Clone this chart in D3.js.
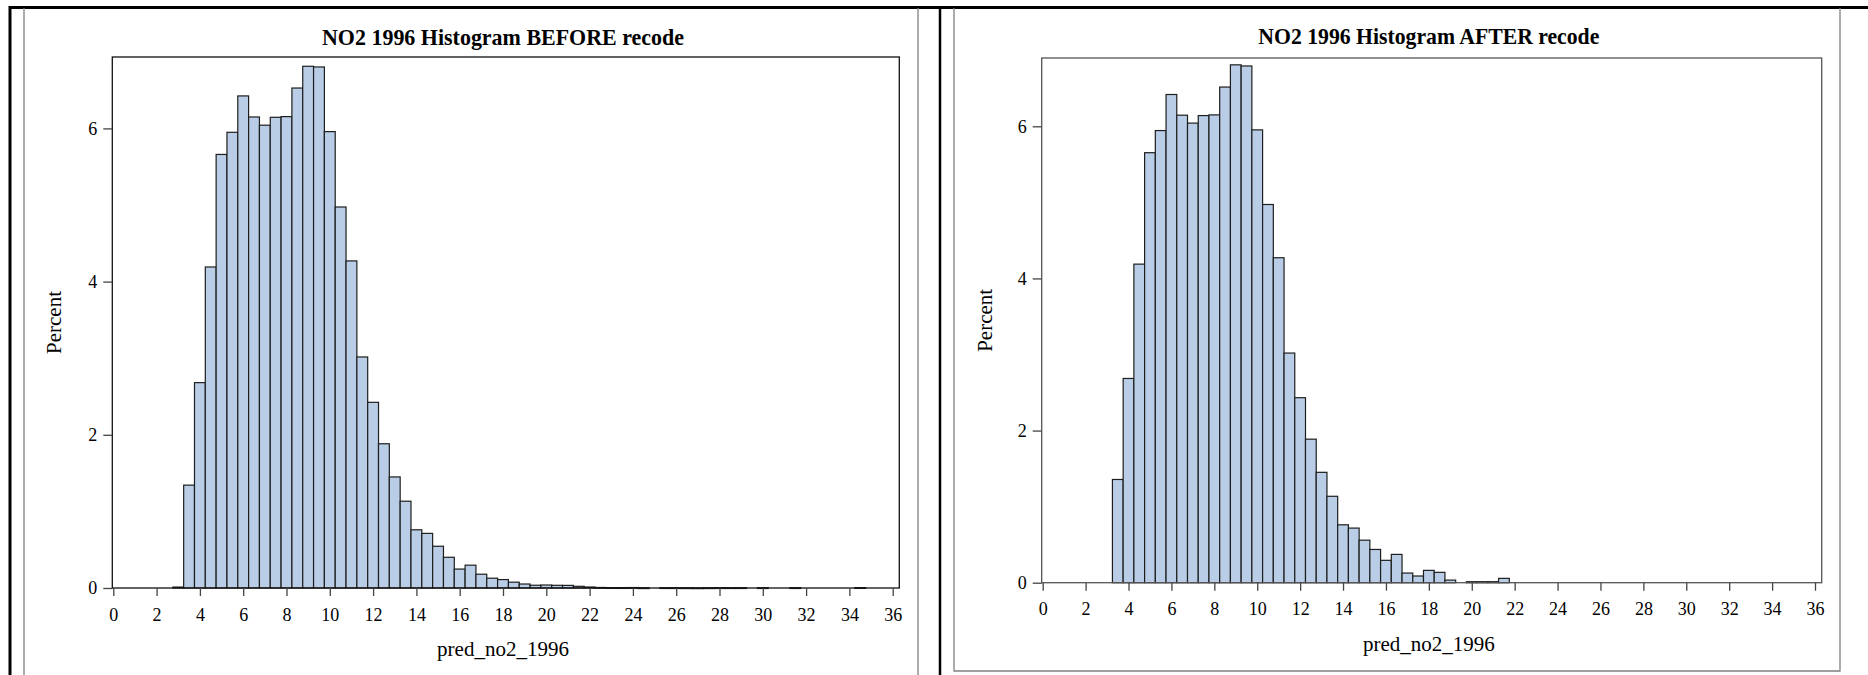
<!DOCTYPE html>
<html>
<head>
  <title>NO2 1996 Histograms</title>
  <script src="https://d3js.org/d3.v7.min.js"></script>
  <style>
    body { margin: 0; background: #fff; }
    svg text { font-family: "Liberation Serif", "Times New Roman", serif; fill: #000; }
  </style>
</head>
<body>
  <svg id="chart" width="1868" height="675"></svg>

  <script>
    // bin midpoints (bin width 0.5) and percent per bin
    const beforeBins = [3.0, 3.5, 4.0, 4.5, 5.0, 5.5, 6.0, 6.5, 7.0, 7.5, 8.0, 8.5, 9.0, 9.5,
      10.0, 10.5, 11.0, 11.5, 12.0, 12.5, 13.0, 13.5, 14.0, 14.5, 15.0, 15.5, 16.0, 16.5,
      17.0, 17.5, 18.0, 18.5, 19.0, 19.5, 20.0, 20.5, 21.0, 21.5, 22.0, 22.5, 23.0, 23.5,
      24.0, 24.5, 25.5, 26.0, 26.5, 27.0, 27.5, 28.0, 28.5, 29.0, 30.0, 31.5, 34.5];
    const beforePct = [0.012, 1.343, 2.681, 4.191, 5.660, 5.949, 6.424, 6.149, 6.042, 6.145, 6.154, 6.527, 6.811, 6.802,
      5.958, 4.974, 4.270, 3.016, 2.424, 1.883, 1.450, 1.133, 0.760, 0.713, 0.545, 0.401, 0.247, 0.298,
      0.180, 0.128, 0.110, 0.076, 0.052, 0.036, 0.039, 0.035, 0.034, 0.022, 0.013, 0.007, 0.005, 0.005,
      0.006, 0.003, 0.004, 0.004, 0.003, 0.002, 0.003, 0.004, 0.004, 0.004, 0.004, 0.004, 0.005];

    const afterBins = [3.5, 4.0, 4.5, 5.0, 5.5, 6.0, 6.5, 7.0, 7.5, 8.0, 8.5, 9.0, 9.5,
      10.0, 10.5, 11.0, 11.5, 12.0, 12.5, 13.0, 13.5, 14.0, 14.5, 15.0, 15.5, 16.0, 16.5,
      17.0, 17.5, 18.0, 18.5, 19.0, 20.0, 20.5, 21.0, 21.5];
    const afterPct = [1.357, 2.685, 4.188, 5.653, 5.944, 6.418, 6.146, 6.042, 6.141, 6.150, 6.516, 6.808, 6.793,
      5.953, 4.972, 4.272, 3.019, 2.432, 1.887, 1.451, 1.136, 0.761, 0.718, 0.559, 0.437, 0.294, 0.372,
      0.127, 0.088, 0.162, 0.136, 0.034, 0.013, 0.013, 0.013, 0.057];

    const xTicks = [0, 2, 4, 6, 8, 10, 12, 14, 16, 18, 20, 22, 24, 26, 28, 30, 32, 34, 36];
    const yTicks = [0, 2, 4, 6];
    const binWidth = 0.5;

    const svg = d3.select("#chart");

    // outer frame: heavy black lines
    svg.append("line").attr("x1", 9).attr("x2", 1868).attr("y1", 7.5).attr("y2", 7.5)
      .attr("stroke", "#000").attr("stroke-width", 3);
    svg.append("line").attr("x1", 10).attr("x2", 10).attr("y1", 6).attr("y2", 675)
      .attr("stroke", "#000").attr("stroke-width", 3);
    svg.append("line").attr("x1", 940).attr("x2", 940).attr("y1", 6).attr("y2", 675)
      .attr("stroke", "#000").attr("stroke-width", 2.5);

    // thin gray panel borders
    const gray = "#808080";
    svg.append("path").attr("d", "M24,8V675M918,8V675")
      .attr("fill", "none").attr("stroke", gray).attr("stroke-width", 1.3);
    svg.append("path").attr("d", "M954,8V671H1840V8")
      .attr("fill", "none").attr("stroke", gray).attr("stroke-width", 1.3);

    function drawPanel(p) {
      const g = svg.append("g");
      const x = d3.scaleLinear().domain([0, 36]).range([p.x0, p.x36]);
      const y = d3.scaleLinear().domain([0, 6]).range([p.y0, p.y6]);

      g.selectAll("rect.bar")
        .data(p.bins.map((b, i) => ({ b: b, v: p.pct[i] })))
        .join("rect")
        .attr("class", "bar")
        .attr("x", d => x(d.b - binWidth / 2))
        .attr("width", d => x(d.b + binWidth / 2) - x(d.b - binWidth / 2))
        .attr("y", d => y(d.v))
        .attr("height", d => Math.max(y(0) - y(d.v), 0.8))
        .attr("fill", "#b9cde6")
        .attr("stroke", "#1e1e1e")
        .attr("stroke-width", 1.2);

      // plot frame
      g.append("rect")
        .attr("x", p.frameL).attr("y", p.frameT)
        .attr("width", p.frameR - p.frameL).attr("height", p.y0 - p.frameT)
        .attr("fill", "none").attr("stroke", p.frameColor).attr("stroke-width", 1.3);

      const xAxis = g.append("g")
        .attr("transform", `translate(0,${p.y0})`)
        .call(d3.axisBottom(x).tickValues(xTicks).tickSize(8).tickPadding(12).tickFormat(d3.format("d")));
      xAxis.select(".domain").remove();
      xAxis.selectAll("line").attr("stroke", "#444").attr("stroke-width", 1.3);
      xAxis.selectAll("text").attr("font-size", 18).attr("font-family", null);

      const yAxis = g.append("g")
        .attr("transform", `translate(${p.frameL},0)`)
        .call(d3.axisLeft(y).tickValues(yTicks).tickSize(9).tickPadding(6).tickFormat(d3.format("d")));
      yAxis.select(".domain").remove();
      yAxis.selectAll("line").attr("stroke", "#444").attr("stroke-width", 1.3);
      yAxis.selectAll("text").attr("font-size", 18).attr("font-family", null);

      const mid = (p.x0 + p.x36) / 2;
      g.append("text")
        .attr("x", mid).attr("y", p.titleY)
        .attr("text-anchor", "middle")
        .attr("font-size", 23).attr("font-weight", "bold")
        .attr("textLength", p.titleLen).attr("lengthAdjust", "spacingAndGlyphs")
        .text(p.title);

      g.append("text")
        .attr("x", mid).attr("y", p.xLabelY)
        .attr("text-anchor", "middle")
        .attr("font-size", 21)
        .text("pred_no2_1996");

      g.append("text")
        .attr("transform", `translate(${p.yLabelX},${(p.frameT + p.y0) / 2}) rotate(-90)`)
        .attr("text-anchor", "middle")
        .attr("font-size", 21)
        .text("Percent");
    }

    drawPanel({
      bins: beforeBins, pct: beforePct,
      title: "NO2 1996 Histogram BEFORE recode", titleLen: 362, titleY: 45,
      x0: 113.3, x36: 892.7, y0: 588, y6: 128.4,
      frameL: 112.3, frameR: 899.3, frameT: 57, frameColor: "#111",
      xLabelY: 656, yLabelX: 61
    });

    drawPanel({
      bins: afterBins, pct: afterPct,
      title: "NO2 1996 Histogram AFTER recode", titleLen: 341, titleY: 44,
      x0: 1042.7, x36: 1815, y0: 582.7, y6: 126.3,
      frameL: 1041.7, frameR: 1821.7, frameT: 58, frameColor: "#555",
      xLabelY: 651, yLabelX: 992
    });
  </script>
</body>
</html>
